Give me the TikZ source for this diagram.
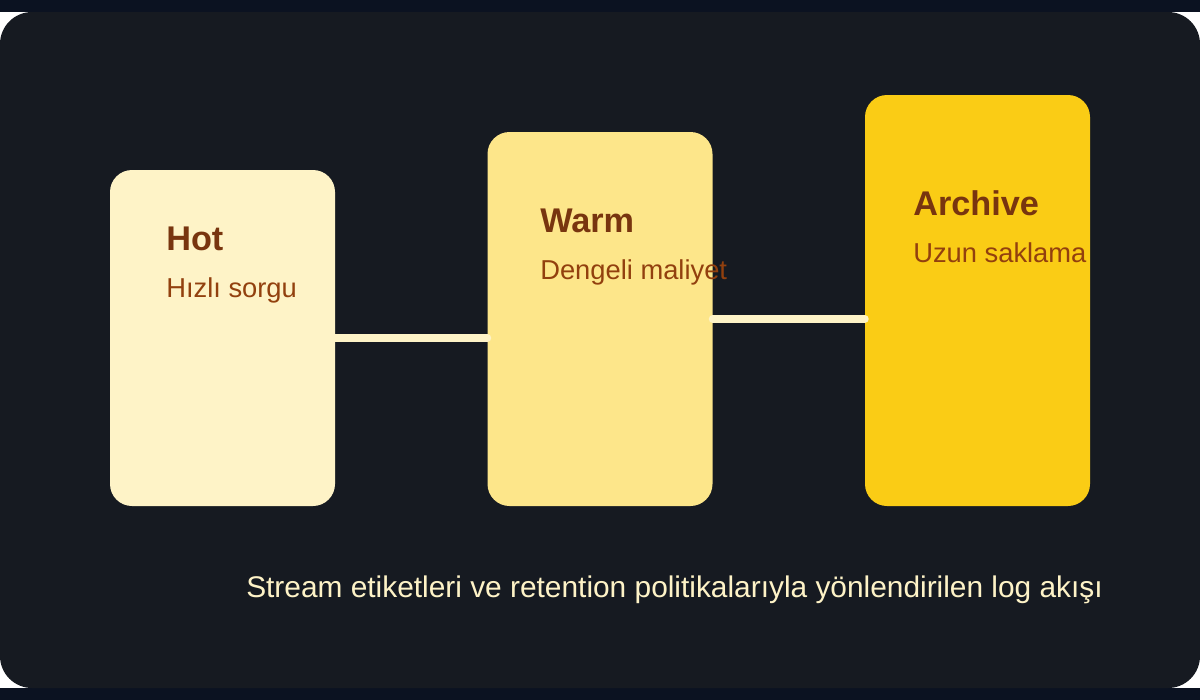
\documentclass[tikz,border=0pt]{standalone}
\usepackage{fontspec}
\setmainfont{Liberation Sans}
\usepackage{xcolor}
\definecolor{pagedark}{HTML}{0B1221}
\definecolor{paneldark}{HTML}{161A21}
\definecolor{tierhot}{HTML}{FEF3C7}
\definecolor{tierwarm}{HTML}{FDE68A}
\definecolor{tierarchive}{HTML}{FACC15}
\definecolor{titlebrown}{HTML}{78350F}
\definecolor{subbrown}{HTML}{92400E}

\tikzset{
  tierbox/.style={rounded corners=16.5pt, minimum width=168.75pt, inner sep=0pt},
  tiertitle/.style={anchor=base west, inner sep=0pt, text=titlebrown, font=\fontsize{25.7}{30}\selectfont\bfseries},
  tiersub/.style={anchor=base west, inner sep=0pt, text=subbrown, font=\fontsize{20.5}{24}\selectfont},
  flowline/.style={tierhot, line width=6pt, line cap=round}
}

\begin{document}
\begin{tikzpicture}[x=0.75pt, y=-0.75pt]

  % --- Background ---
  \useasboundingbox (0,0) rectangle (1200,700);
  \fill[white] (0,0) rectangle (1200,700);
  \fill[pagedark] (0,0) rectangle (1200,12);
  \fill[pagedark] (0,688) rectangle (1200,700);
  \fill[paneldark, rounded corners=24pt] (0,12) rectangle (1200,688);

  % --- Tiers ---
  \node[tierbox, fill=tierhot, minimum height=252pt] (hot) at (222.5,338) {};
  \node[tierbox, fill=tierwarm, minimum height=280.5pt] (warm) at (600,319) {};
  \node[tierbox, fill=tierarchive, minimum height=308.25pt] (archive) at (977.5,300.5) {};

  % Tier labels
  \node[tiertitle] (hottitle) at (166,250) {Hot};
  \node[tiersub] (hotsub) at (166,297) {Hızlı sorgu};
  \node[tiertitle] (warmtitle) at (540,232) {Warm};
  \node[tiersub] (warmsub) at (540,279) {Dengeli maliyet};
  \node[tiertitle] (archivetitle) at (913,215) {Archive};
  \node[tiersub] (archivesub) at (913,262) {Uzun saklama};

  % --- Flow ---
  \draw[flowline] (hot.east) -- (hot.east -| warm.west);
  \draw[flowline] (warm.east) -- (warm.east -| archive.west);

  % Caption
  \node[anchor=base west, inner sep=0pt, text=tierhot, font=\fontsize{22.4}{26}\selectfont] (caption) at (246,597)
    {Stream etiketleri ve retention politikalarıyla yönlendirilen log akışı};

\end{tikzpicture}
\end{document}
